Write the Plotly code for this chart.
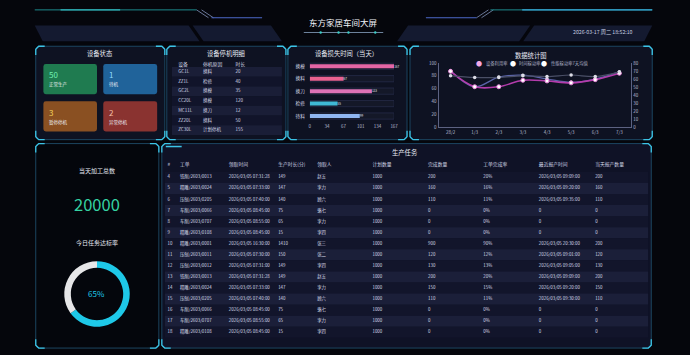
import plotly.graph_objects as go

W, H = 690, 355
FONT = "Noto Sans CJK SC, Noto Sans, sans-serif"

# ---------------- data ----------------
screen_title = "东方家居车间大屏"
timestamp = "2026-03-17 周二 18:52:10"

status_names = ["正常生产", "待机", "暂停停机", "异常停机"]
status_counts = [50, 1, 3, 2]

stop_header = ["设备", "停机原因", "时长"]
stop_devices = ["GC1L", "ZZ1L", "GC2L", "CC20L", "MC11L", "ZZ20L", "ZC30L"]
stop_reasons = ["换料", "检修", "换模", "换模", "换刀", "换料", "计划停机"]
stop_minutes = [20, 40, 35, 120, 12, 50, 155]

loss_types = ["换模", "换料", "换刀", "检修", "待料"]
loss_minutes = [167, 67, 123, 55, 99]
loss_ticks = [0, 34, 67, 101, 134, 167]

stat_days = ["28/2", "1/3", "2/3", "3/3", "4/3", "5/3", "6/3", "7/3"]
equip_util = [87, 63, 63, 73, 72, 69, 74, 84]
time_util = [88, 63, 78, 81, 75, 70, 75, 86]
perf_util_7d = [64, 62, 62, 64, 63, 65, 63, 69]

today_total = 20000
today_rate = 65

task_header = ["#", "工单", "领取时间", "生产时长(分)", "领取人", "计划数量",
               "完成数量", "工单完成率", "最近报产时间", "当天报产数量"]
task_no = [4, 5, 6, 7, 8, 9, 10, 11, 12, 13, 14, 15, 16, 17, 18]
task_order = ["铣削/2603/0013", "精雕/2603/0024", "压刨/2603/0205", "车削/2603/0066",
              "车削/2603/0707", "精雕/2603/0108", "精雕/2603/0001", "压刨/2603/0011",
              "压刨/2603/0012", "铣削/2603/0013", "精雕/2603/0024", "压刨/2603/0205",
              "车削/2603/0066", "车削/2603/0707", "精雕/2603/0108"]
task_start = ["2026/03/05 07:31:28", "2026/03/05 07:33:00", "2026/03/05 07:40:00",
              "2026/03/05 08:45:00", "2026/03/05 08:55:00", "2026/03/05 08:45:00",
              "2026/03/05 16:30:00", "2026/03/05 07:30:00", "2026/03/05 07:31:00",
              "2026/03/05 07:31:28", "2026/03/05 07:33:00", "2026/03/05 07:40:00",
              "2026/03/05 08:45:00", "2026/03/05 08:55:00", "2026/03/05 08:45:00"]
task_duration = [149, 147, 140, 75, 65, 15, 1410, 150, 149, 149, 147, 140, 75, 65, 15]
task_owner = ["赵五", "李力", "顾六", "骆七", "李力", "李四", "张三", "张二",
              "李四", "赵五", "李力", "顾六", "骆七", "李力", "李四"]
task_plan = [1000, 1000, 1000, 1000, 1000, 1000, 1000, 1000,
             1000, 1000, 1000, 1000, 1000, 1000, 1000]
task_done = [200, 160, 110, 0, 0, 0, 900, 120, 130, 200, 150, 110, 0, 0, 0]
task_rate = ["20%", "16%", "11%", "0%", "0%", "0%", "90%", "12%",
             "13%", "20%", "15%", "11%", "0%", "0%", "0%"]
task_last = ["2026/03/05 09:09:00", "2026/03/05 09:20:00", "2026/03/05 09:35:00",
             "0", "0", "0", "2026/03/05 20:30:00", "2026/03/05 09:01:00",
             "2026/03/05 09:05:00", "2026/03/05 09:09:00", "2026/03/05 09:20:00",
             "2026/03/05 09:30:00", "0", "0", "0"]
task_today = [200, 160, 110, 0, 0, 0, 200, 120, 130, 200, 150, 110, 0, 0, 0]

# ---------------- styling ----------------
def X(p):
    return p / W


def Y(p):
    return 1 - p / H


def f(v):
    return f"{v:.5f}"


def rrect(x0, y0, x1, y1, r):
    return (f"M{f(X(x0 + r))},{f(Y(y0))} L{f(X(x1 - r))},{f(Y(y0))} "
            f"Q{f(X(x1))},{f(Y(y0))} {f(X(x1))},{f(Y(y0 + r))} "
            f"L{f(X(x1))},{f(Y(y1 - r))} Q{f(X(x1))},{f(Y(y1))} {f(X(x1 - r))},{f(Y(y1))} "
            f"L{f(X(x0 + r))},{f(Y(y1))} Q{f(X(x0))},{f(Y(y1))} {f(X(x0))},{f(Y(y1 - r))} "
            f"L{f(X(x0))},{f(Y(y0 + r))} Q{f(X(x0))},{f(Y(y0))} {f(X(x0 + r))},{f(Y(y0))} Z")


def poly(pts):
    s = "M" + " L".join(f"{f(X(a))},{f(Y(b))}" for a, b in pts) + " Z"
    return s


def polyline(pts):
    return "M" + " L".join(f"{f(X(a))},{f(Y(b))}" for a, b in pts)


shapes = []
annotations = []


def line(x0, y0, x1, y1, color, width=1):
    shapes.append(dict(type="line", xref="paper", yref="paper", x0=X(x0), y0=Y(y0),
                       x1=X(x1), y1=Y(y1), line=dict(color=color, width=width), layer="below"))


def ann(x, y, text, size, color="#e6e9f2", xanchor="center", ref=("paper", "paper")):
    annotations.append(dict(x=X(x), y=Y(y), xref="paper", yref="paper", text=text,
                            showarrow=False, xanchor=xanchor, yanchor="middle",
                            font=dict(size=size, color=color, family=FONT)))


def panel(x0, y0, x1, y1, fill, border="#1c4560", corner="#3cc4e6"):
    shapes.append(dict(type="path", path=rrect(x0, y0, x1, y1, 4), xref="paper", yref="paper",
                       fillcolor=fill, line=dict(color=border, width=1), layer="below"))
    L = 9
    for pts in ([(x0, y0 + L), (x0, y0 + 3), (x0 + 3, y0), (x0 + L, y0)],
                [(x1 - L, y0), (x1 - 3, y0), (x1, y0 + 3), (x1, y0 + L)],
                [(x0, y1 - L), (x0, y1 - 3), (x0 + 3, y1), (x0 + L, y1)],
                [(x1 - L, y1), (x1 - 3, y1), (x1, y1 - 3), (x1, y1 - L)]):
        shapes.append(dict(type="path", path=polyline(pts), xref="paper", yref="paper",
                           line=dict(color=corner, width=1.3), layer="below"))


# ---- header decoration ----
for pts in ([(34, 23), (189, 23), (200, 39), (42, 39)],
            [(193, 23), (272, 23), (283, 39), (204, 39)],
            [(410, 23), (533, 23), (522, 39), (399, 39)],
            [(537, 23), (656, 23), (648, 39), (526, 39)]):
    shapes.append(dict(type="path", path=poly(pts), xref="paper", yref="paper",
                       fillcolor="#141a30", line=dict(width=0), layer="below"))
line(34, 7, 197, 7, "#1e8a8e", 1)
line(60, 7, 120, 7, "#32b6bc", 1.2)
line(197, 7, 209, 15, "#8090b8", 0.8)
line(202, 7, 214, 15, "#8090b8", 0.8)
line(212, 15, 263, 15, "#4d68c8", 1.2)
line(428, 15, 479, 15, "#4d68c8", 1.2)
line(479, 15, 491, 7, "#8090b8", 0.8)
line(484, 15, 496, 7, "#8090b8", 0.8)
line(493, 7, 656, 7, "#1e8a8e", 1)
line(525, 7, 656, 7, "#38a8d8", 1.4)
line(305, 30, 385, 30, "#8aa4c4", 0.8)
for cx in (322, 340, 350, 377):
    shapes.append(dict(type="circle", xref="paper", yref="paper", x0=X(cx - 1.2), x1=X(cx + 1.2),
                       y0=Y(31.2), y1=Y(28.8), fillcolor="#3ccfc8", line=dict(width=0), layer="below"))
ann(345, 19, screen_title, 8.5, "#f2f4fa")
ann(606, 30, timestamp, 5.2, "#c8d0e2")

# ---- panels ----
panel(35, 44, 165, 139, "#0e1222")
panel(167, 44, 287, 139, "#0e1222")
panel(289, 44, 409, 139, "#0e1222")
panel(412, 44, 656, 139, "#0e1222")
panel(35, 143, 159, 351, "#04060c")
panel(162, 143, 655, 351, "#0f1226")
line(166, 146, 182, 146, "#3cc4e6", 1.5)

ann(100, 51, "设备状态", 6.3)
ann(227, 51, "设备停机明细", 6.3)
ann(348, 51, "设备损失时间（当天）", 6.3)
ann(533, 53, "数据统计图", 6.3)
ann(407, 152, "生产任务", 6.3)

# ---- status tiles ----
tile_boxes = [(42.7, 62, 96.7, 92.7), (103, 62, 157.3, 92.7),
              (42.7, 100, 96.7, 130.7), (103, 100, 157.3, 130.7)]
tile_fill = ["#1f7b50", "#20639a", "#8a5022", "#8a3330"]
tile_num_color = ["#6ff0b2", "#8fd8ff", "#f2d35a", "#f8c0a8"]
for (x0, y0, x1, y1), fc, nc, name, val in zip(tile_boxes, tile_fill, tile_num_color,
                                               status_names, status_counts):
    shapes.append(dict(type="path", path=rrect(x0, y0, x1, y1, 2.5), xref="paper", yref="paper",
                       fillcolor=fc, line=dict(width=0), layer="below"))
    ann(x0 + 3.5, y0 + 11, str(val), 8, nc, "left")
    ann(x0 + 3.5, y0 + 21.3, name, 4.5, "#eef0f4", "left")

# ---- left-bottom panel ----
ann(96.7, 170, "当天加工总数", 6)
ann(96.7, 204, str(today_total), 16.5, "#35d2a2")
ann(96.7, 244, "今日任务达标率", 6)
ann(96.7, 296, f"{today_rate}%", 8, "#1ec8e8")

# ---- line chart legend ----
legend_items = [("设备利用率", "#f2a8e6", 481.7, 487), ("时间稼动率", "#ffffff", 516, 520),
                ("性能稼动率7天均值", "#ffffff", 547, 552)]
for name, col, dx, tx in legend_items:
    ann(dx, 61.5, "●", 6, col)
    ann(tx, 61.5, name, 4.3, "#a8acc0", "left")

fig = go.Figure()

# ---- loss-time bars ----
fig.add_trace(go.Bar(y=loss_types, x=[loss_ticks[-1]] * len(loss_types), orientation="h",
                     width=0.5, marker=dict(color="#141828", line=dict(color="#2c3354", width=0.6)),
                     hoverinfo="skip", xaxis="x", yaxis="y"))
fig.add_trace(go.Bar(y=loss_types, x=loss_minutes, orientation="h", width=0.32,
                     marker=dict(color=["#e466a6", "#ea6290", "#de72b6", "#3fb9d6", "#8fb6f2"],
                                 line=dict(width=0)),
                     text=loss_minutes, textposition="outside", cliponaxis=False,
                     textfont=dict(size=4.5, color="#e0e4f0", family=FONT),
                     xaxis="x", yaxis="y"))

# ---- statistics lines ----
fig.add_trace(go.Scatter(x=stat_days, y=perf_util_7d, mode="lines+markers", xaxis="x2", yaxis="y3",
                         line=dict(color="#4a4f66", width=1.2, shape="spline"),
                         marker=dict(size=3.5, color="#dcdce6")))
fig.add_trace(go.Scatter(x=stat_days, y=time_util, mode="lines+markers", xaxis="x2", yaxis="y2",
                         line=dict(color="#5b64aa", width=1.3, shape="spline"),
                         marker=dict(size=3.5, color="#f4f4ff")))
fig.add_trace(go.Scatter(x=stat_days, y=equip_util, mode="lines+markers", xaxis="x2", yaxis="y2",
                         line=dict(color="#b43cac", width=1.6, shape="spline"),
                         marker=dict(size=4, color="#ffffff", line=dict(color="#e586d8", width=1))))

# ---- donut ----
fig.add_trace(go.Pie(values=[today_rate, 100 - today_rate], hole=0.8, sort=False,
                     direction="clockwise", rotation=0, textinfo="none", hoverinfo="skip",
                     marker=dict(colors=["#1ec8e8", "#e6e6e8"], line=dict(width=0)),
                     domain=dict(x=[X(63.4), X(130)], y=[Y(329.3), Y(262.7)])))

# ---- stop detail table ----
stop_rows = list(range(len(stop_devices)))
stop_col_x = [178.5, 203.5, 236.2]
stop_stripe = ["#1a1e37" if i % 2 == 0 else "#11142a" for i in stop_rows]
fig.add_trace(go.Bar(y=stop_rows, x=[283 - 172] * len(stop_rows), base=172, orientation="h",
                     width=1, marker=dict(color=stop_stripe, line=dict(width=0)),
                     hoverinfo="skip", xaxis="x4", yaxis="y5"))
fig.add_trace(go.Scatter(x=stop_col_x, y=[-0.74] * 3, mode="text", text=stop_header,
                         textposition="middle right", cliponaxis=False, hoverinfo="skip",
                         textfont=dict(size=4.8, color="#d8dcea", family=FONT),
                         xaxis="x4", yaxis="y5"))
for cx, col in zip(stop_col_x, [stop_devices, stop_reasons, stop_minutes]):
    fig.add_trace(go.Scatter(x=[cx] * len(col), y=stop_rows, mode="text",
                             text=[str(v) for v in col], textposition="middle right",
                             cliponaxis=False, hoverinfo="skip",
                             textfont=dict(size=4.5, color="#d4d8e6", family=FONT),
                             xaxis="x4", yaxis="y5"))

# ---- production task table ----
task_rows = list(range(len(task_no)))
task_col_x = [167.8, 180.2, 229.5, 279.2, 318.5, 374.2, 430.2, 485.8, 541.8, 598.5]
task_stripe = ["#12152b" if i % 2 == 0 else "#1b1f39" for i in task_rows]
fig.add_trace(go.Bar(y=task_rows, x=[652 - 165] * len(task_rows), base=165, orientation="h",
                     width=1, marker=dict(color=task_stripe, line=dict(width=0)),
                     hoverinfo="skip", xaxis="x3", yaxis="y4"))
fig.add_trace(go.Scatter(x=task_col_x, y=[-1.1] * len(task_header), mode="text", text=task_header,
                         textposition="middle right", cliponaxis=False, hoverinfo="skip",
                         textfont=dict(size=4.8, color="#d0d4e4", family=FONT),
                         xaxis="x3", yaxis="y4"))
task_cols = [task_no, task_order, task_start, task_duration, task_owner, task_plan,
             task_done, task_rate, task_last, task_today]
for cx, col in zip(task_col_x, task_cols):
    fig.add_trace(go.Scatter(x=[cx] * len(col), y=task_rows, mode="text",
                             text=[str(v) for v in col], textposition="middle right",
                             cliponaxis=False, hoverinfo="skip",
                             textfont=dict(size=4.4, color="#d8dcea", family=FONT),
                             xaxis="x3", yaxis="y4"))

tick_font = dict(size=4.5, color="#b8bcd2", family=FONT)
hidden = dict(visible=False, showgrid=False, zeroline=False, fixedrange=True)

fig.update_layout(
    width=W, height=H, margin=dict(l=0, r=0, t=0, b=0),
    paper_bgcolor="#05060c", plot_bgcolor="rgba(0,0,0,0)",
    showlegend=False, barmode="overlay", font=dict(family=FONT),
    shapes=shapes, annotations=annotations,
    xaxis=dict(domain=[X(311), X(396)], range=[0, loss_ticks[-1]], tickvals=loss_ticks,
               tickfont=tick_font, showgrid=False, zeroline=False, showline=False, ticks="",
               anchor="y"),
    yaxis=dict(domain=[Y(121.3), Y(58)], autorange="reversed", tickfont=dict(size=4.6, color="#d8dcea", family=FONT),
               showgrid=False, zeroline=False, showline=False, ticks="outside", ticklen=3,
               tickcolor="rgba(0,0,0,0)", anchor="x"),
    xaxis2=dict(domain=[X(440.7), X(635)], type="category", range=[-0.5, 7.5],
                tickfont=tick_font, showgrid=False, zeroline=False, showline=True,
                linecolor="#5c6282", linewidth=1, ticks="", anchor="y2"),
    yaxis2=dict(domain=[Y(126.3), Y(61)], range=[0, 100], dtick=20, tickfont=tick_font,
                showgrid=False, zeroline=False, showline=True, linecolor="#5c6282",
                linewidth=1, ticks="", anchor="x2"),
    yaxis3=dict(overlaying="y2", side="right", range=[0, 80], dtick=10, tickfont=tick_font,
                showgrid=False, zeroline=False, showline=True, linecolor="#5c6282",
                linewidth=1, ticks="", anchor="x2"),
    xaxis3=dict(domain=[X(165), X(652)], range=[165, 652], anchor="y4", **hidden),
    yaxis4=dict(domain=[Y(340.6), Y(159.3)], range=[14.5, -1.6], anchor="x3", **hidden),
    xaxis4=dict(domain=[X(172), X(283)], range=[172, 283], anchor="y5", **hidden),
    yaxis5=dict(domain=[Y(134.35), Y(57.1)], range=[6.5, -1.3], anchor="x4", **hidden),
)

fig.write_html("out.html")
